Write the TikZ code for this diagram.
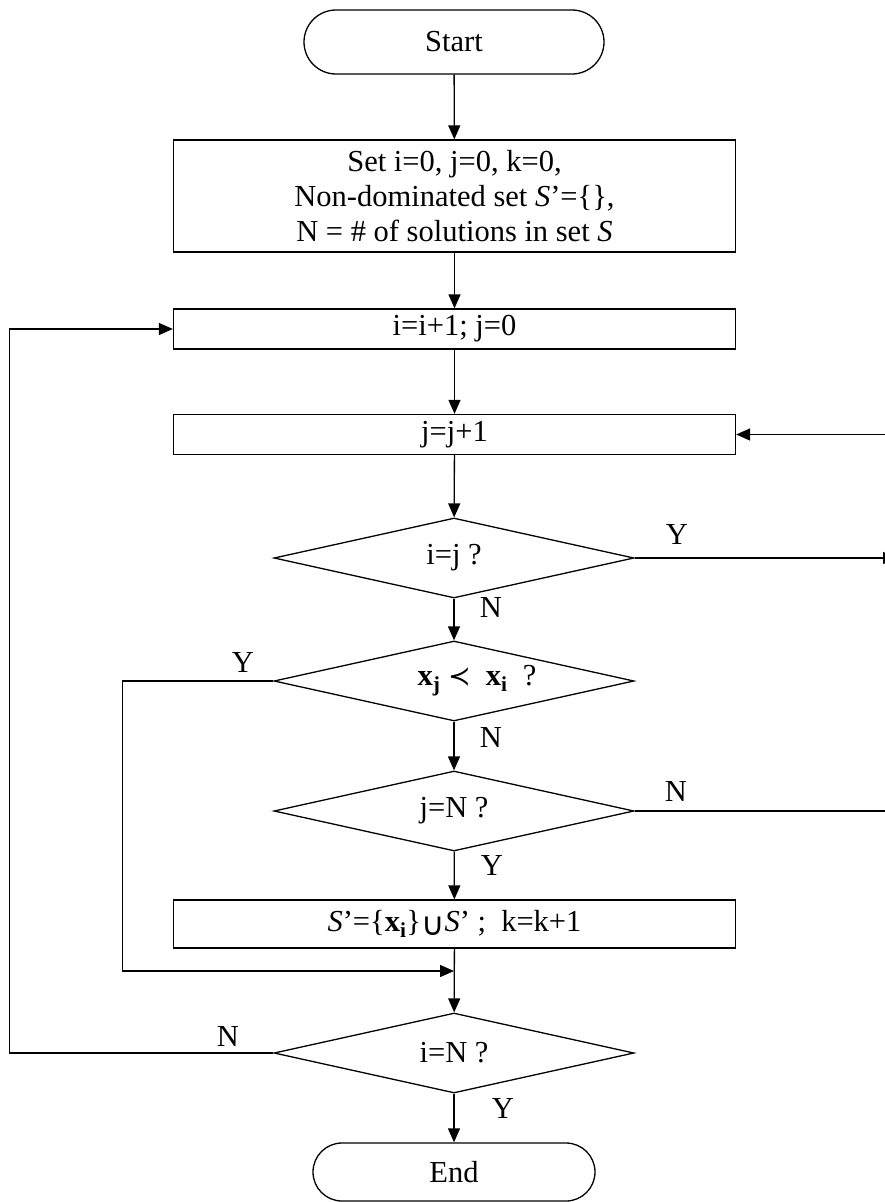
\documentclass[tikz,border=0pt]{standalone}
\usepackage{fontspec}
\setmainfont{Liberation Serif}
\newfontfamily\symfnt{DejaVu Sans}
\usetikzlibrary{shapes.geometric,shapes.misc,arrows.meta}

\begin{document}
\begin{tikzpicture}[x=1pt,y=-1pt,
  every node/.style={font=\fontsize{30.5}{35}\selectfont},
  line/.style={line width=1.3pt},
  flow/.style={line width=1.3pt,-{Triangle[length=14pt,width=12pt]}},
  proc/.style={draw,line width=1.3pt,rectangle,minimum width=562pt,inner sep=0pt,align=center},
  term/.style={draw,line width=1.3pt,rounded rectangle,inner sep=0pt},
  decide/.style={draw,line width=1.3pt,diamond,aspect=4.5,minimum width=360pt,minimum height=80pt,inner sep=0pt},
  tag/.style={inner sep=0pt}]
\useasboundingbox (0,0) rectangle (885,1202);

% blocks of the main column
\node[term,minimum width=300pt,minimum height=64pt] (start) at (454,42) {Start};
\node[proc,minimum height=112pt] (init) at (454.5,196)
  {Set i=0, j=0, k=0,\\ Non-dominated set \textit{S}’=\{\},\\ N = \# of solutions in set \textit{S}};
\node[proc,minimum height=40pt] (inc) at (454.5,329) {i=i+1; j=0};
\node[proc,minimum height=40pt] (jinc) at (454.5,434.5) {j=j+1};
\node[decide] (eq) at (454,558) {i=j ?};
\node[decide,label={[xshift=23pt]center:{{\bfseries x\textsubscript{j}} {\symfnt\fontsize{27}{30}\selectfont ≺}\ \ {\bfseries x\textsubscript{i}}\ \ ?}}] (dom) at (454,681) {};
\node[decide] (last) at (454,811) {j=N ?};
\node[proc,minimum height=48pt] (add) at (454.5,924)
  {\textit{S}’=\{{\bfseries x\textsubscript{i}}\}\raisebox{-4pt}{\symfnt\fontsize{32}{34}\selectfont ∪}\textit{S}’ ;\ \ k=k+1};
\node[decide] (done) at (454,1053) {i=N ?};
\node[term,minimum width=282pt,minimum height=58pt] (end) at (454,1172) {End};

% free ends at the right border
\coordinate (rY) at (897,558);
\coordinate (rN) at (885,811);
\coordinate (rIn) at (885,434.5);
\coordinate (merge) at (454,971);

% main flow
\draw[flow] (start) -- (init);
\draw[flow] (init) -- (inc);
\draw[flow] (inc) -- (jinc);
\draw[flow] (jinc) -- (eq);
\draw[flow] (eq) -- (dom);
\draw[flow] (dom) -- (last);
\draw[flow] (last) -- (add);
\draw[flow] (add) -- (done);
\draw[flow] (done) -- (end);

% branches
\draw[flow] (eq.east) -- (rY);
\draw[line] (last.east) -- (rN);
\draw[flow] (rIn) -- (jinc.east);
\draw[flow] (dom.west) -- ++(-151,0) |- (merge);
\draw[flow] (done.west) -- ++(-264,0) |- (inc.west);

% branch labels
\node[tag] (yEq) at (677,535) {Y};
\node[tag] (nEq) at (491,608) {N};
\node[tag] (yDom) at (243,663) {Y};
\node[tag] (nDom) at (491,738) {N};
\node[tag] (nLast) at (676,792) {N};
\node[tag] (yLast) at (492,866) {Y};
\node[tag] (nDone) at (228,1037) {N};
\node[tag] (yDone) at (503,1108) {Y};
\end{tikzpicture}
\end{document}
